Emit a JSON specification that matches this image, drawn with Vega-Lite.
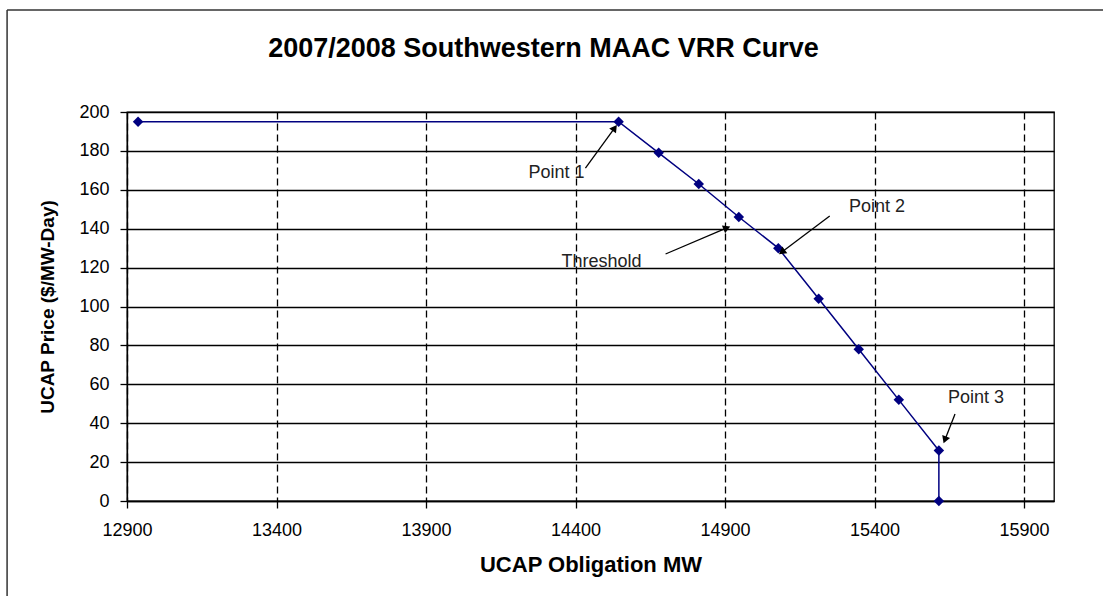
{
  "$schema": "https://vega.github.io/schema/vega-lite/v6.json",
  "autosize": {"type": "none"},
  "width": 927,
  "height": 389,
  "padding": {"left": 127, "top": 112, "right": 49, "bottom": 95},
  "background": "white",
  "title": {
    "text": "2007/2008 Southwestern MAAC VRR Curve",
    "font": "Liberation Sans",
    "fontSize": 27,
    "fontWeight": "bold",
    "color": "#000000",
    "anchor": "middle",
    "frame": "group",
    "dx": -47,
    "offset": -54
  },
  "config": {
    "view": {"stroke": "#000000", "strokeWidth": 1.3},
    "font": "Liberation Sans",
    "axis": {
      "labelFont": "Liberation Sans",
      "labelFontSize": 18,
      "labelColor": "#000000",
      "labelOverlap": false,
      "labelFlush": false,
      "titleFont": "Liberation Sans",
      "titleFontSize": 19,
      "titleFontWeight": "bold",
      "titleColor": "#000000",
      "domainColor": "#000000",
      "domainWidth": 1.3,
      "tickColor": "#000000",
      "tickWidth": 1.3,
      "tickSize": 7
    }
  },
  "datasets": {
    "curve": [
      {"i": 1, "mw": 12937, "price": 195},
      {"i": 2, "mw": 14544, "price": 195},
      {"i": 3, "mw": 14678, "price": 179},
      {"i": 4, "mw": 14812, "price": 163},
      {"i": 5, "mw": 14946, "price": 146},
      {"i": 6, "mw": 15078, "price": 130},
      {"i": 7, "mw": 15213, "price": 104},
      {"i": 8, "mw": 15347, "price": 78},
      {"i": 9, "mw": 15481, "price": 52},
      {"i": 10, "mw": 15615, "price": 26},
      {"i": 11, "mw": 15615, "price": 0}
    ],
    "labels": [
      {"label": "Point 1", "mw": 14336, "price": 168.6},
      {"label": "Point 2", "mw": 15408, "price": 151.2},
      {"label": "Threshold", "mw": 14487, "price": 122.9},
      {"label": "Point 3", "mw": 15739, "price": 53}
    ],
    "arrows": [
      {"name": "Point 1", "mw": 14433, "price": 171.2, "mw2": 14531, "price2": 191.8, "angle": 36},
      {"name": "Point 2", "mw": 15250, "price": 146.5, "mw2": 15090, "price2": 128, "angle": 233},
      {"name": "Threshold", "mw": 14701, "price": 127, "mw2": 14906, "price2": 140.4, "angle": 67},
      {"name": "Point 3", "mw": 15669, "price": 44.7, "mw2": 15635, "price2": 31.4, "angle": 201}
    ],
    "frame": [
      {"mw": 12499, "price": 252.4, "mw2": 12499, "price2": -60},
      {"mw": 12499, "price": 252.4, "mw2": 16250, "price2": 252.4}
    ]
  },
  "layer": [
    {
      "data": {"name": "curve"},
      "mark": {"type": "line", "color": "#000080", "strokeWidth": 1.5, "clip": false},
      "encoding": {
        "x": {
          "field": "mw", "type": "quantitative",
          "scale": {"domain": [12900, 16000], "nice": false, "zero": false},
          "axis": {
            "title": "UCAP Obligation MW",
            "titleFontSize": 22,
            "values": [12900, 13400, 13900, 14400, 14900, 15400, 15900],
            "tickCount": 10,
            "format": "d",
            "labelPadding": 13,
            "titlePadding": 15,
            "grid": true,
            "gridColor": "#000000",
            "gridWidth": 1.3,
            "gridDash": [7, 4],
            "gridOpacity": 1
          }
        },
        "y": {
          "field": "price", "type": "quantitative",
          "scale": {"domain": [0, 200], "nice": false},
          "axis": {
            "title": "UCAP Price ($/MW-Day)",
            "values": [0, 20, 40, 60, 80, 100, 120, 140, 160, 180, 200],
            "tickCount": 12,
            "labelPadding": 11,
            "titlePadding": 21,
            "grid": true,
            "gridColor": "#000000",
            "gridWidth": 1.3,
            "gridOpacity": 1
          }
        },
        "order": {"field": "i", "type": "quantitative"}
      }
    },
    {
      "data": {"name": "curve"},
      "mark": {"type": "point", "shape": "diamond", "filled": true, "color": "#000080", "size": 110, "opacity": 1},
      "encoding": {
        "x": {"field": "mw", "type": "quantitative"},
        "y": {"field": "price", "type": "quantitative"}
      }
    },
    {
      "data": {"name": "arrows"},
      "mark": {"type": "rule", "color": "#000000", "strokeWidth": 1.3},
      "encoding": {
        "x": {"field": "mw", "type": "quantitative"},
        "y": {"field": "price", "type": "quantitative"},
        "x2": {"field": "mw2"},
        "y2": {"field": "price2"}
      }
    },
    {
      "data": {"name": "arrows"},
      "mark": {"type": "point", "shape": "triangle-up", "filled": true, "color": "#000000", "size": 70, "opacity": 1},
      "encoding": {
        "x": {"field": "mw2", "type": "quantitative"},
        "y": {"field": "price2", "type": "quantitative"},
        "angle": {"field": "angle", "type": "quantitative", "scale": null}
      }
    },
    {
      "data": {"name": "labels"},
      "mark": {"type": "text", "font": "Liberation Sans", "fontSize": 18, "color": "#222222", "align": "center", "baseline": "middle"},
      "encoding": {
        "x": {"field": "mw", "type": "quantitative"},
        "y": {"field": "price", "type": "quantitative"},
        "text": {"field": "label"}
      }
    },
    {
      "data": {"name": "frame"},
      "mark": {"type": "rule", "color": "#333333", "strokeWidth": 1.5, "clip": false},
      "encoding": {
        "x": {"field": "mw", "type": "quantitative"},
        "y": {"field": "price", "type": "quantitative"},
        "x2": {"field": "mw2"},
        "y2": {"field": "price2"}
      }
    }
  ]
}
